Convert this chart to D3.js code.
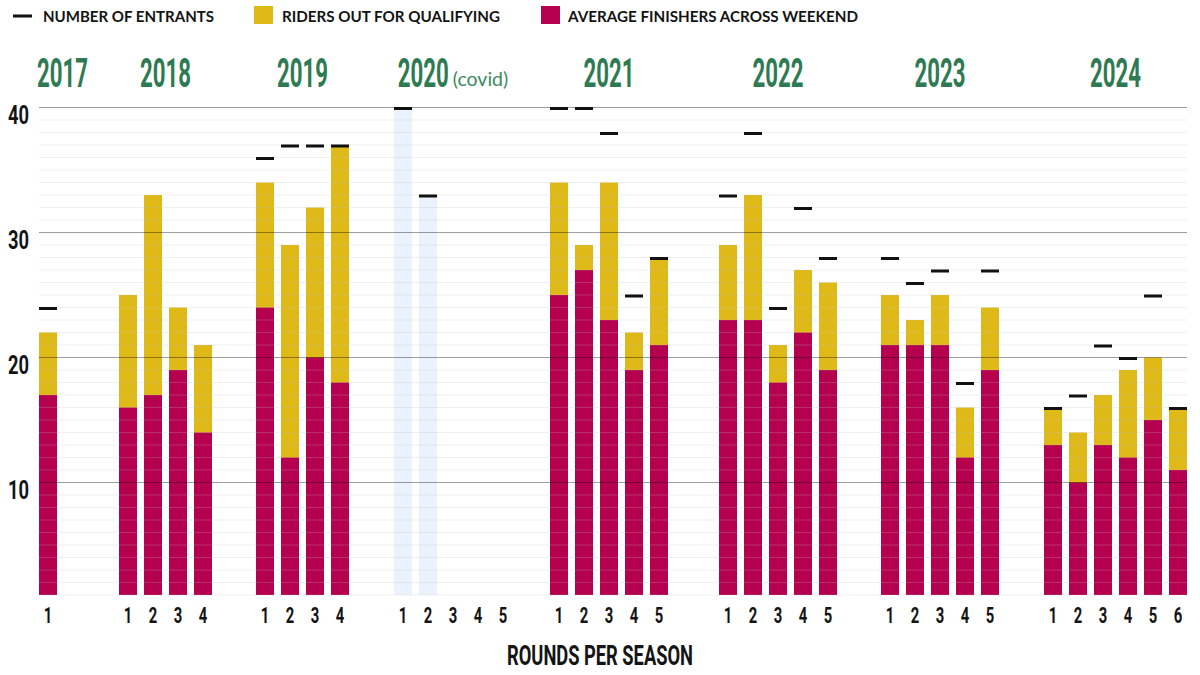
<!DOCTYPE html>
<html>
<head>
<meta charset="utf-8">
<script src="https://cdnjs.cloudflare.com/ajax/libs/d3/7.8.5/d3.min.js"></script>
<style>
  html, body { margin: 0; padding: 0; background: #fff; }
  svg { display: block; }
</style>
</head>
<body>
<div id="chart"></div>
<script>
// ---------------- DATA ----------------
const years = ["2017", "2018", "2019", "2020", "2021", "2022", "2023", "2024"];
const roundsPerYear = [1, 4, 4, 5, 5, 5, 5, 6];
// Riders out for qualifying (total bar height)
const qualifying = [
  [22],
  [25, 33, 24, 21],
  [34, 29, 32, 37],
  [null, null, null, null, null],
  [34, 29, 34, 22, 28],
  [29, 33, 21, 27, 26],
  [25, 23, 25, 16, 24],
  [16, 14, 17, 19, 20, 16]
];
// Average finishers across weekend
const finishers = [
  [17],
  [16, 17, 19, 14],
  [24, 12, 20, 18],
  [null, null, null, null, null],
  [25, 27, 23, 19, 21],
  [23, 23, 18, 22, 19],
  [21, 21, 21, 12, 19],
  [13, 10, 13, 12, 15, 11]
];
// Number of entrants
const entrants = [
  [24],
  [null, null, null, null],
  [36, 37, 37, 37],
  [40, 33, null, null, null],
  [40, 40, 38, 25, 28],
  [33, 38, 24, 32, 28],
  [28, 26, 27, 18, 27],
  [16, 17, 21, 20, 25, 16]
];
const yTicks = [10, 20, 30, 40];
const legendLabels = ["NUMBER OF ENTRANTS", "RIDERS OUT FOR QUALIFYING", "AVERAGE FINISHERS ACROSS WEEKEND"];
const xTitle = "ROUNDS PER SEASON";
const yearNote = { "2020": "(covid)" };

// ---------------- LAYOUT ----------------
const W = 1200, H = 675;
const groupGap = [2.2, 1.48, 1.52, 1.24, 1.76, 1.48, 1.52]; // extra slot units between seasons
const barFrac = 0.72;
const C = {
  yellow: "#dfb917",
  magenta: "#b5004f",
  green: "#2e7a52",
  noteGreen: "#3d8a5e",
  covidBg: "#eaf3fd",
  text: "#141414"
};

const slots = [];
let pos = 0;
years.forEach((yr, i) => {
  if (i > 0) pos += groupGap[i - 1];
  for (let r = 0; r < roundsPerYear[i]; r++) {
    slots.push({ year: yr, yi: i, round: r + 1, pos,
      q: qualifying[i][r], f: finishers[i][r], e: entrants[i][r] });
    pos += 1;
  }
});
const lastPos = slots[slots.length - 1].pos + barFrac;

const x = d3.scaleLinear().domain([0, lastPos]).range([39, 1187]);
const y = d3.scaleLinear().domain([1, 40]).range([595, 107.5]);
const bw = x(barFrac) - x(0);

const svg = d3.select("#chart").append("svg")
  .attr("width", W).attr("height", H)
  .attr("viewBox", `0 0 ${W} ${H}`);

const condensedFont = "'Liberation Sans Narrow', Roboto, sans-serif";

// ---------- Legend ----------
const legendItems = [
  { label: legendLabels[0], kind: "dash", color: "#111", mx: 13, tx: 43, tw: 171 },
  { label: legendLabels[1], kind: "box", color: C.yellow, mx: 254, tx: 282, tw: 218 },
  { label: legendLabels[2], kind: "box", color: C.magenta, mx: 541, tx: 568, tw: 290 }
];
const lg = svg.append("g").attr("class", "legend");
legendItems.forEach(it => {
  if (it.kind === "dash") {
    lg.append("rect").attr("x", it.mx).attr("y", 14.5).attr("width", 19).attr("height", 3).attr("fill", it.color);
  } else {
    lg.append("rect").attr("x", it.mx).attr("y", 6).attr("width", 19).attr("height", 18).attr("fill", it.color);
  }
  lg.append("text").attr("x", it.tx).attr("y", 22)
    .attr("font-family", "Lato, 'Open Sans', sans-serif")
    .attr("font-weight", 700)
    .attr("font-size", 14.5)
    .attr("textLength", it.tw).attr("lengthAdjust", "spacingAndGlyphs")
    .attr("fill", C.text)
    .text(it.label);
});

// ---------- Covid background columns (entrants only, no racing) ----------
svg.append("g").selectAll("rect")
  .data(slots.filter(d => d.q == null && d.e != null))
  .join("rect")
  .attr("x", d => x(d.pos)).attr("width", bw)
  .attr("y", d => y(d.e)).attr("height", d => y(1) - y(d.e))
  .attr("fill", C.covidBg);

// ---------- Bars ----------
const barData = slots.filter(d => d.q != null);
svg.append("g").selectAll("rect")
  .data(barData).join("rect")
  .attr("x", d => x(d.pos)).attr("width", bw)
  .attr("y", d => y(d.q)).attr("height", d => y(1) - y(d.q))
  .attr("fill", C.yellow);
svg.append("g").selectAll("rect")
  .data(barData).join("rect")
  .attr("x", d => x(d.pos)).attr("width", bw)
  .attr("y", d => y(d.f)).attr("height", d => y(1) - y(d.f))
  .attr("fill", C.magenta);

// ---------- Grid (drawn above bars, semi transparent) ----------
const minor = d3.range(1, 40).filter(v => !yTicks.includes(v));
svg.append("g").selectAll("line")
  .data(minor).join("line")
  .attr("x1", x(0)).attr("x2", x(lastPos))
  .attr("y1", d => y(d)).attr("y2", d => y(d))
  .attr("stroke", "rgba(190,190,190,0.25)").attr("stroke-width", 1.2);
svg.append("g").selectAll("line")
  .data(yTicks).join("line")
  .attr("x1", x(0)).attr("x2", x(lastPos))
  .attr("y1", d => y(d)).attr("y2", d => y(d))
  .attr("stroke", "rgba(0,0,0,0.38)").attr("stroke-width", 1.2);

// ---------- Entrant markers ----------
svg.append("g").selectAll("rect")
  .data(slots.filter(d => d.e != null)).join("rect")
  .attr("x", d => x(d.pos)).attr("width", bw)
  .attr("y", d => y(d.e) - 0.5).attr("height", 3)
  .attr("fill", "#111");

// ---------- Y tick labels ----------
svg.append("g").selectAll("text")
  .data(yTicks).join("text")
  .attr("x", 8).attr("y", d => y(d) + 16)
  .attr("font-family", condensedFont)
  .attr("font-weight", 700).attr("font-size", 25)
  .attr("textLength", 21).attr("lengthAdjust", "spacingAndGlyphs")
  .attr("fill", C.text)
  .text(d => d);

// ---------- Round labels ----------
svg.append("g").selectAll("text")
  .data(slots).join("text")
  .attr("x", d => x(d.pos + barFrac / 2)).attr("y", 623)
  .attr("text-anchor", "middle")
  .attr("font-family", condensedFont)
  .attr("font-weight", 700).attr("font-size", 22.5)
  .attr("textLength", 8.5).attr("lengthAdjust", "spacingAndGlyphs")
  .attr("fill", C.text)
  .text(d => d.round);

// ---------- X title ----------
svg.append("text")
  .attr("x", (x(0) + x(lastPos)) / 2 - 13).attr("y", 665)
  .attr("text-anchor", "middle")
  .attr("font-family", condensedFont)
  .attr("font-weight", 700).attr("font-size", 28)
  .attr("textLength", 186).attr("lengthAdjust", "spacingAndGlyphs")
  .attr("fill", C.text)
  .text(xTitle);

// ---------- Year labels (condensed via horizontal scale) ----------
const yearW = 51;
const yl = svg.append("g");
years.forEach((yr, i) => {
  const g = slots.filter(s => s.yi === i);
  const left = x(g[0].pos), right = x(g[g.length - 1].pos + barFrac);
  const center = (left + right) / 2;
  let noteW = 0, noteEl = null;
  if (yearNote[yr]) {
    noteEl = yl.append("text")
      .attr("font-family", "Lato, 'Open Sans', sans-serif")
      .attr("font-weight", 400).attr("font-size", 19.5)
      .attr("fill", C.noteGreen).attr("y", 86)
      .text(yearNote[yr]);
    noteW = noteEl.node().getComputedTextLength();
  }
  const gap = 4;
  const total = yearW + (noteEl ? gap + noteW : 0);
  let start = center - total / 2;
  if (total > right - left) start = left - 2;
  const t = yl.append("text")
    .attr("x", 0).attr("y", 0)
    .attr("font-family", condensedFont)
    .attr("font-weight", 700).attr("font-size", 41)
    .attr("fill", C.green)
    .text(yr);
  const natural = t.node().getComputedTextLength();
  const sx = yearW / natural;
  t.attr("transform", `translate(${start},87) scale(${sx},1)`);
  if (noteEl) noteEl.attr("x", start + yearW + gap);
});
</script>
</body>
</html>
